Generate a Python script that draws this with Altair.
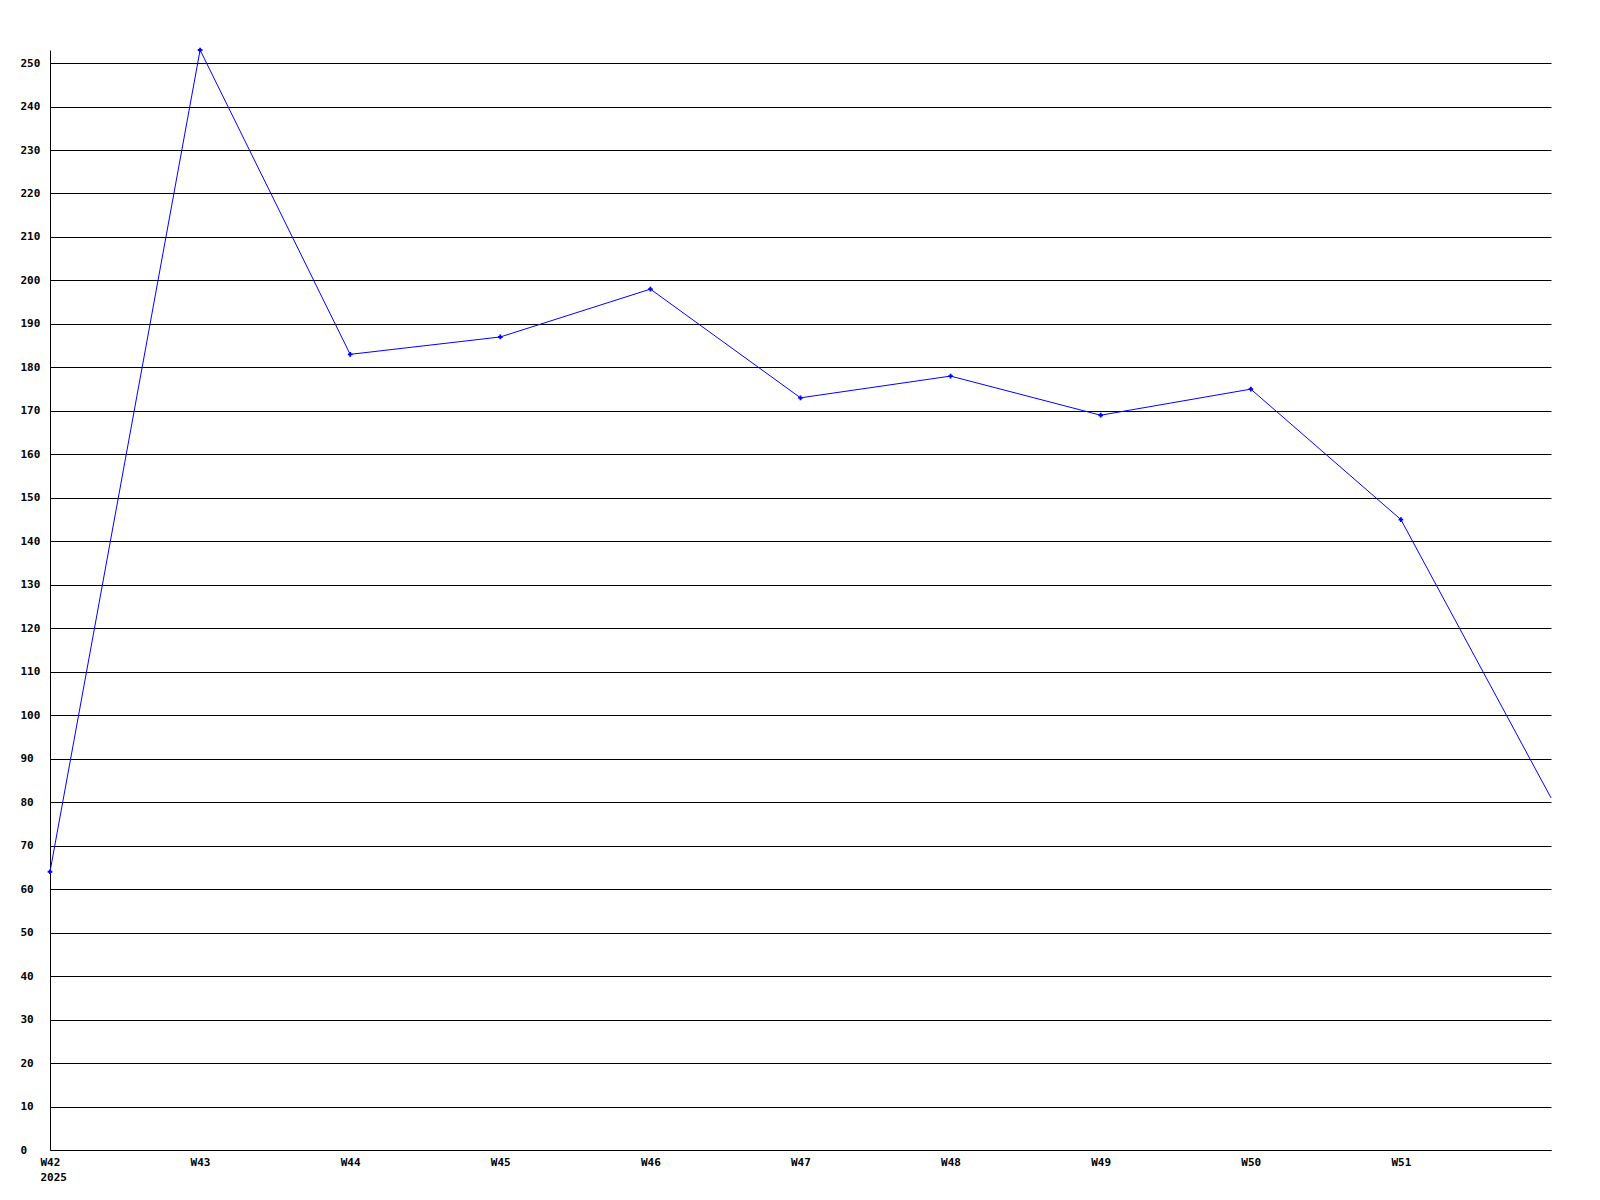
import altair as alt
import pandas as pd

weeks = ["W42", "W43", "W44", "W45", "W46", "W47", "W48", "W49", "W50", "W51", "W52"]
values = [64, 253, 183, 187, 198, 173, 178, 169, 175, 145, 81]
tick_weeks = ["W42", "W43", "W44", "W45", "W46", "W47", "W48", "W49", "W50", "W51"]
y_ticks = list(range(0, 251, 10))

df = pd.DataFrame({"week": weeks, "value": values})
df["marker"] = [w in tick_weeks for w in weeks]

FONT = "DejaVu Sans Mono"

x_enc = alt.X(
    "week:O",
    sort=weeks,
    scale=alt.Scale(type="point", padding=0),
    axis=alt.Axis(
        title=None,
        values=tick_weeks,
        labelAngle=0,
        ticks=False,
        grid=False,
        domainColor="black",
        labelFont=FONT,
        labelFontWeight="bold",
        labelFontSize=11,
        labelColor="black",
        labelPadding=6,
        labelLineHeight=15,
        labelExpr="datum.value == 'W42' ? ['W42', '2025'] : datum.value",
        labelAlign="left",
        labelOffset=-10,
    ),
)
y_enc = alt.Y(
    "value:Q",
    scale=alt.Scale(domain=[0, 253], nice=False, zero=True),
    axis=alt.Axis(
        title=None,
        values=y_ticks,
        ticks=False,
        grid=True,
        gridColor="black",
        gridOpacity=1,
        gridWidth=1,
        domainColor="black",
        labelFont=FONT,
        labelFontWeight="bold",
        labelFontSize=11,
        labelColor="black",
        labelAlign="left",
        labelBaseline="middle",
        labelPadding=30,
    ),
)

line = alt.Chart(df).mark_line(color="#0000ff", strokeWidth=1).encode(x=x_enc, y=y_enc)
pts = (
    alt.Chart(df)
    .transform_filter("datum.marker")
    .mark_point(shape="cross", size=22, filled=True, color="#0000ff", opacity=1)
    .encode(x=x_enc, y=y_enc)
)

chart = (
    alt.layer(line, pts)
    .properties(
        width=1501,
        height=1100,
        autosize=alt.AutoSizeParams(type="none"),
        padding={"left": 42, "top": 42, "right": 40, "bottom": 50},
        background="white",
    )
    .configure_view(stroke=None)
)

chart.save("out.html", embed_options={"renderer": "svg", "actions": False})
